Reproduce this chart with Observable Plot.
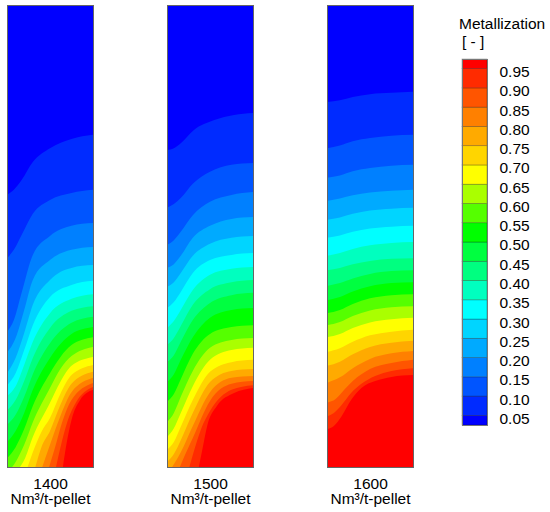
<!DOCTYPE html>
<html><head><meta charset="utf-8">
<script src="https://cdn.jsdelivr.net/npm/d3@7"></script>
<script src="https://cdn.jsdelivr.net/npm/@observablehq/plot@0.6"></script>
<style>
html,body{margin:0;padding:0;background:#fff;}
#wrap{position:relative;width:550px;height:512px;font-family:"Liberation Sans",Arial,sans-serif;}
#main{position:absolute;left:0;top:0;}
#legend{position:absolute;left:440px;top:0;}
#ltitle{position:absolute;left:459px;top:15px;font-size:15.5px;line-height:18px;color:#000;white-space:nowrap;}
</style></head><body>
<div id="wrap"><div id="main"></div><div id="legend"></div><div id="ltitle"></div></div>
<script>
// ---- data ----
const panels = ["1400", "1500", "1600"];
const unitLabel = "Nm\u00b3/t-pellet";
const legendTitle = "Metallization";
const legendUnit = "[ - ]";
const levels = [0.05,0.10,0.15,0.20,0.25,0.30,0.35,0.40,0.45,0.50,0.55,0.60,0.65,0.70,0.75,0.80,0.85,0.90,0.95];
const bandColors = ["#0000ff","#002bff","#0055ff","#0080ff","#00aaff","#00d5ff","#00ffff","#00ffbf","#00ff80","#00ff40",
  "#00ff00","#55ff00","#aaff00","#ffff00","#ffd500","#ffaa00","#ff8000","#ff5500","#ff2b00","#ff0000"];

// each contour: [r/R, z/H %] points of the iso-line of the matching level
const contours1400 = [
  [[0,58.9],[0.08,60.0],[0.17,62.1],[0.3,66.0],[0.5,69.0],[0.75,71.0],[1,71.9]],
  [[0,45.2],[0.08,47.0],[0.17,50.2],[0.3,54.8],[0.5,57.8],[0.75,59.3],[1,60.0]],
  [[0,29.2],[0.08,31.8],[0.17,37.7],[0.3,45.9],[0.5,50.0],[0.75,52.2],[1,52.8]],
  [[0,24.7],[0.1,27.9],[0.2,34.0],[0.3,40.5],[0.5,44.8],[0.75,47.0],[1,47.6]],
  [[0,20.3],[0.1,23.6],[0.2,29.0],[0.3,35.1],[0.5,40.5],[0.75,43.1],[1,43.7]],
  [[0,17.7],[0.1,20.3],[0.2,25.3],[0.3,30.7],[0.5,36.8],[0.75,39.4],[1,40.3]],
  [[0,15.4],[0.1,17.5],[0.2,22.1],[0.3,27.1],[0.5,33.3],[0.75,36.4],[1,37.4]],
  [[0,12.3],[0.1,14.5],[0.2,18.6],[0.3,23.6],[0.5,30.1],[0.75,33.8],[1,34.8]],
  [[0,9.1],[0.1,11.3],[0.2,15.2],[0.3,20.1],[0.5,26.8],[0.75,31.2],[1,32.5]],
  [[0,5.4],[0.1,7.8],[0.2,11.7],[0.3,16.7],[0.5,23.6],[0.75,28.8],[1,30.3]],
  [[0,1.9],[0.1,4.3],[0.2,8.2],[0.3,13.2],[0.5,20.3],[0.75,26.4],[1,28.1]],
  [[0.06,0],[0.1,1.1],[0.2,4.8],[0.3,9.7],[0.5,17.1],[0.62,21.2],[0.75,24.0],[1,26.0]],
  [[0.15,0],[0.2,1.5],[0.3,6.5],[0.5,13.9],[0.62,18.4],[0.75,21.9],[1,23.8]],
  [[0.24,0],[0.3,3.2],[0.4,7.6],[0.5,10.6],[0.62,15.8],[0.75,19.9],[1,22.1]],
  [[0.33,0],[0.4,4.3],[0.5,7.8],[0.62,13.4],[0.75,18.0],[1,20.6]],
  [[0.41,0],[0.5,4.8],[0.62,11.0],[0.75,16.2],[1,19.3]],
  [[0.49,0],[0.55,3.7],[0.65,10.2],[0.75,14.5],[1,18.2]],
  [[0.57,0],[0.62,4.1],[0.7,9.7],[0.8,13.9],[1,17.3]],
  [[0.65,0],[0.69,4.8],[0.75,10.2],[0.85,14.5],[1,16.7]]
];
const contours1500 = [
  [[0,68.6],[0.08,69.0],[0.16,70.1],[0.31,72.9],[0.55,75.1],[0.78,76.2],[1,76.6]],
  [[0,56.1],[0.08,56.9],[0.16,58.2],[0.3,61.3],[0.5,63.9],[0.75,65.4],[1,65.8]],
  [[0,48.1],[0.08,49.1],[0.16,50.9],[0.3,54.5],[0.5,57.4],[0.75,58.9],[1,59.5]],
  [[0,43.1],[0.08,43.9],[0.16,45.7],[0.3,49.6],[0.5,52.2],[0.75,53.7],[1,54.1]],
  [[0,39.0],[0.08,40.0],[0.16,42.0],[0.3,45.7],[0.5,48.3],[0.75,49.6],[1,50.0]],
  [[0,34.4],[0.08,35.7],[0.16,37.9],[0.3,42.0],[0.5,44.8],[0.75,45.9],[1,46.3]],
  [[0,30.1],[0.08,31.6],[0.16,34.0],[0.3,38.3],[0.5,41.6],[0.75,42.9],[1,43.3]],
  [[0,26.4],[0.08,27.9],[0.16,30.5],[0.3,35.1],[0.5,38.5],[0.75,40.0],[1,40.5]],
  [[0,22.7],[0.08,24.2],[0.16,27.1],[0.3,31.8],[0.5,35.5],[0.75,37.2],[1,37.7]],
  [[0,18.4],[0.08,20.1],[0.16,23.2],[0.3,28.1],[0.5,32.3],[0.75,34.0],[1,34.4]],
  [[0,14.1],[0.08,15.8],[0.16,19.0],[0.3,24.5],[0.5,28.8],[0.75,30.3],[1,30.7]],
  [[0,9.7],[0.08,11.7],[0.16,15.2],[0.3,20.8],[0.5,25.8],[0.75,27.5],[1,27.9]],
  [[0,6.5],[0.08,8.4],[0.16,11.7],[0.3,17.5],[0.5,23.2],[0.75,25.3],[1,25.8]],
  [[0,3.7],[0.08,5.4],[0.16,8.7],[0.3,14.5],[0.5,20.6],[0.75,22.7],[1,23.2]],
  [[0,1.1],[0.08,2.8],[0.16,5.8],[0.3,11.7],[0.5,18.4],[0.75,20.8],[1,21.2]],
  [[0.06,0],[0.16,3.2],[0.3,8.9],[0.5,16.2],[0.75,19.3],[1,19.7]],
  [[0.15,0],[0.2,2.2],[0.3,6.3],[0.5,14.3],[0.75,18.0],[1,18.6]],
  [[0.26,0],[0.3,2.6],[0.4,8.4],[0.5,12.1],[0.75,16.7],[1,17.7]],
  [[0.37,0],[0.41,3.7],[0.47,9.1],[0.58,13.2],[0.78,16.0],[1,17.1]]
];
const contours1600 = [
  [[0,79.0],[0.15,79.4],[0.3,80.1],[0.5,80.7],[0.75,81.0],[1,81.2]],
  [[0,69.0],[0.15,69.6],[0.3,70.5],[0.5,71.2],[0.75,71.7],[1,71.9]],
  [[0,62.6],[0.15,63.1],[0.3,64.0],[0.5,64.7],[0.75,65.2],[1,65.4]],
  [[0,57.6],[0.15,58.1],[0.3,58.8],[0.5,59.4],[0.75,59.8],[1,60.0]],
  [[0,53.5],[0.15,54.0],[0.3,54.8],[0.5,55.5],[0.75,55.9],[1,56.1]],
  [[0,49.6],[0.15,50.1],[0.3,50.9],[0.5,51.6],[0.75,52.0],[1,52.2]],
  [[0,45.7],[0.15,46.3],[0.3,47.2],[0.5,48.0],[0.75,48.5],[1,48.7]],
  [[0,42.6],[0.15,43.1],[0.3,43.9],[0.5,44.6],[0.75,45.1],[1,45.2]],
  [[0,39.2],[0.15,39.8],[0.3,40.8],[0.5,41.8],[0.75,42.4],[1,42.6]],
  [[0,36.1],[0.15,36.8],[0.3,38.0],[0.5,39.1],[0.75,39.8],[1,40.0]],
  [[0,33.3],[0.15,34.0],[0.3,35.3],[0.5,36.5],[0.75,37.2],[1,37.4]],
  [[0,30.7],[0.15,31.4],[0.3,32.7],[0.5,33.9],[0.75,34.6],[1,34.8]],
  [[0,28.1],[0.15,28.8],[0.3,30.1],[0.5,31.3],[0.75,32.0],[1,32.3]],
  [[0,24.9],[0.15,25.7],[0.3,27.1],[0.5,28.5],[0.75,29.3],[1,29.7]],
  [[0,21.9],[0.15,22.8],[0.3,24.4],[0.5,26.0],[0.75,26.9],[1,27.3]],
  [[0,18.2],[0.15,19.4],[0.3,21.4],[0.5,23.4],[0.75,24.6],[1,25.1]],
  [[0,13.9],[0.1,14.7],[0.2,16.7],[0.3,18.6],[0.5,21.2],[0.75,22.5],[1,23.2]],
  [[0,11.0],[0.08,11.7],[0.17,13.4],[0.28,16.0],[0.4,18.0],[0.56,19.7],[0.75,20.8],[1,21.4]],
  [[0,8.2],[0.08,8.9],[0.17,11.0],[0.28,14.5],[0.4,17.1],[0.56,18.6],[0.75,19.5],[1,19.9]]
];
const contours = [contours1400, contours1500, contours1600];

// ---- build table ----
const rows = [];
panels.forEach((p, pi) => contours[pi].forEach((pts, k) => pts.forEach(([x, h]) => rows.push({panel: p, k, x, h}))));

const font = '"Liberation Sans", Arial, sans-serif';
const marks = [Plot.frame({fill: bandColors[0], stroke: null})];
levels.forEach((lv, k) => {
  marks.push(Plot.areaY(rows.filter(d => d.k === k), {
    x: "x", y1: 0, y2: "h", fx: "panel", z: "panel",
    fill: bandColors[k + 1], curve: "monotone-x"
  }));
});
marks.push(Plot.frame({stroke: "#666", strokeWidth: 1}));

const main = Plot.plot({
  width: 420, height: 512,
  marginLeft: 6, marginRight: 7, marginTop: 5, marginBottom: 45,
  x: {domain: [0, 1], axis: null},
  y: {domain: [0, 100], axis: null},
  fx: {domain: panels, paddingInner: 0.4642, paddingOuter: 0, axis: "bottom",
       tickSize: 0, tickPadding: 10, label: null, tickFormat: d => `${d}\n${unitLabel}`},
  style: {fontFamily: font, fontSize: "15.5px", color: "#000", background: "transparent"},
  marks
});
document.getElementById("main").append(main);

// ---- legend ----
const bands = bandColors.map((c, i) => ({
  lo: i === 0 ? levels[0] - 0.025 : levels[i - 1],
  hi: i === levels.length ? levels[levels.length - 1] + 0.025 : levels[i],
  c
}));
const legend = Plot.plot({
  width: 110, height: 512,
  marginLeft: 22, marginRight: 63, marginTop: 59, marginBottom: 87,
  x: {domain: [0, 1], axis: null},
  y: {domain: [0.025, 0.975], axis: null},
  color: {type: "identity"},
  style: {fontFamily: font, fontSize: "15.5px", color: "#000", background: "transparent"},
  marks: [
    Plot.rect(bands, {x1: 0, x2: 1, y1: "lo", y2: "hi", fill: "c", stroke: "#000", strokeOpacity: 0.35, strokeWidth: 0.7}),
    Plot.frame({stroke: "#777", strokeWidth: 1}),
    Plot.text(levels, {x: 1, y: d => d, text: d => d.toFixed(2), dx: 12, dy: 3, textAnchor: "start", fontSize: 15.5, fill: "#000"})
  ]
});
document.getElementById("legend").append(legend);

const lt = document.getElementById("ltitle");
lt.innerHTML = "";
lt.append(legendTitle, document.createElement("br"));
const u = document.createElement("span");
u.style.paddingLeft = "3px";
u.textContent = legendUnit;
lt.append(u);
</script></body></html>
